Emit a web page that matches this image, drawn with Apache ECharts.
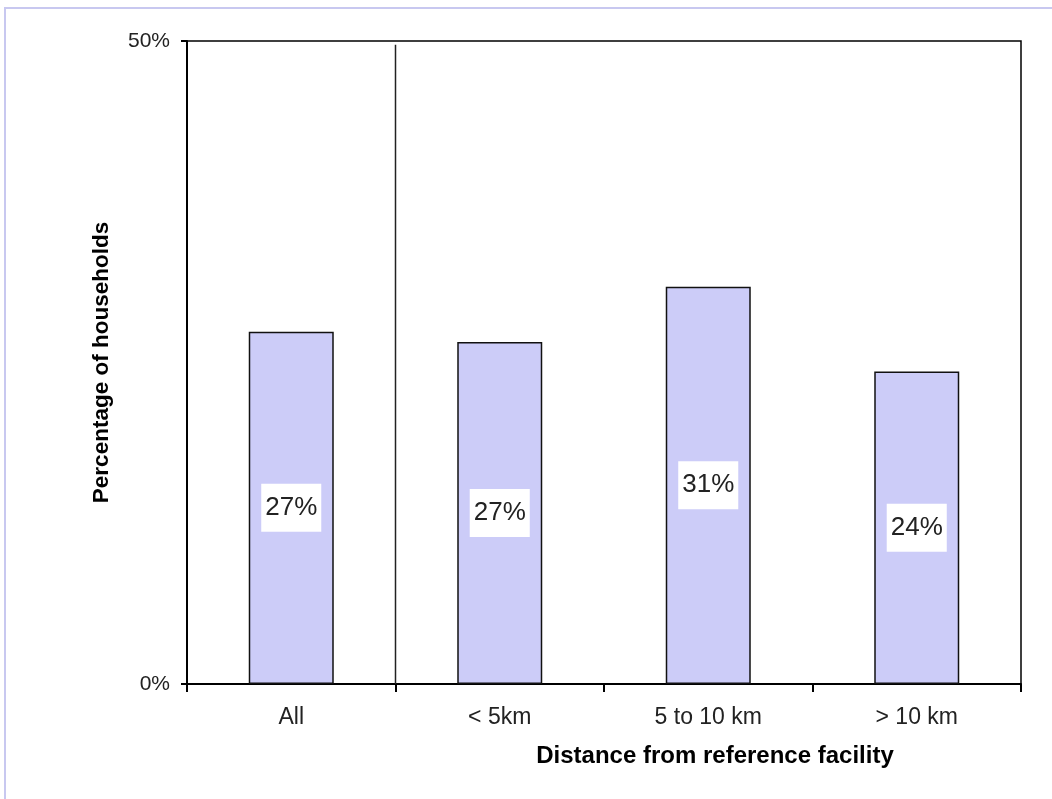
<!DOCTYPE html>
<html>
<head>
<meta charset="utf-8">
<script src="https://cdn.jsdelivr.net/npm/echarts@6/dist/echarts.min.js"></script>
<style>
    body { margin: 0; background: #fff; }
    #frame {
        position: absolute; left: 4px; top: 7px; width: 1060px; height: 790px;
        border-left: 2px solid #c8c8f0; border-top: 2px solid #c8c8f0;
        border-bottom: 1px solid #ecebf8;
    }
    #chart { position: absolute; left: 0; top: 0; width: 1052px; height: 799px; }
</style>
</head>
<body>
<div id="frame"></div>
<div id="chart"></div>
<script>
// categories and values
var categories = ['All', '< 5km', '5 to 10 km', '> 10 km'];
var shares = [27.4, 26.6, 30.9, 24.3];
var yTicks = [0, 50];
// divider between "All" and the distance groups (category units)
var dividerAt = 0.5;
var dividerTop = 49.7;

var chart = echarts.init(document.getElementById('chart'));
var font = 'Liberation Sans, Arial, sans-serif';
var plot = { left: 187, right: 31, top: 41, bottom: 115 };

var option = {
    animation: false,
    grid: [
        Object.assign({ show: true, borderColor: '#000', borderWidth: 1.5 }, plot),
        Object.assign({ show: false }, plot)
    ],
    xAxis: [{
        type: 'category',
        gridIndex: 0,
        data: categories,
        boundaryGap: true,
        name: 'Distance from reference facility',
        nameLocation: 'middle',
        nameGap: 60,
        nameTextStyle: {
            fontFamily: font, fontSize: 24, fontWeight: 'bold', color: '#000',
            padding: [0, 0, 0, 222]
        },
        axisLine: { lineStyle: { color: '#000', width: 2 } },
        axisTick: { show: true, length: 8, lineStyle: { color: '#000', width: 2 } },
        axisLabel: { fontFamily: font, fontSize: 23, color: '#222', margin: 22 },
        splitLine: { show: false }
    }, {
        type: 'value',
        gridIndex: 1,
        min: -0.5,
        max: categories.length - 0.5,
        show: false
    }],
    yAxis: [{
        type: 'value',
        gridIndex: 0,
        min: yTicks[0],
        max: yTicks[1],
        interval: 50,
        name: 'Percentage of households',
        nameLocation: 'middle',
        nameRotate: 90,
        nameGap: 74,
        nameTextStyle: { fontFamily: font, fontSize: 22.5, fontWeight: 'bold', color: '#000' },
        axisLine: { show: true, lineStyle: { color: '#000', width: 2 } },
        axisTick: { show: true, length: 6, lineStyle: { color: '#000', width: 2 } },
        axisLabel: {
            fontFamily: font, fontSize: 21, color: '#222', margin: 17,
            formatter: function (v) { return v + '%'; }
        },
        splitLine: { show: false }
    }, {
        type: 'value',
        gridIndex: 1,
        min: yTicks[0],
        max: yTicks[1],
        show: false
    }],
    series: [{
        type: 'bar',
        xAxisIndex: 0,
        yAxisIndex: 0,
        data: shares,
        barWidth: 85,
        itemStyle: { color: '#ccccf8', borderColor: '#111', borderWidth: 1.5 },
        label: {
            show: true,
            position: 'inside',
            fontFamily: font,
            fontSize: 26,
            color: '#222',
            backgroundColor: '#fff',
            padding: [11, 4, 11, 4],
            formatter: function (p) { return Math.round(p.value) + '%'; }
        }
    }, {
        type: 'line',
        xAxisIndex: 1,
        yAxisIndex: 1,
        data: [[dividerAt, 0], [dividerAt, dividerTop]],
        symbol: 'none',
        lineStyle: { color: '#222', width: 1.5 },
        silent: true
    }]
};
chart.setOption(option);
</script>
</body>
</html>
